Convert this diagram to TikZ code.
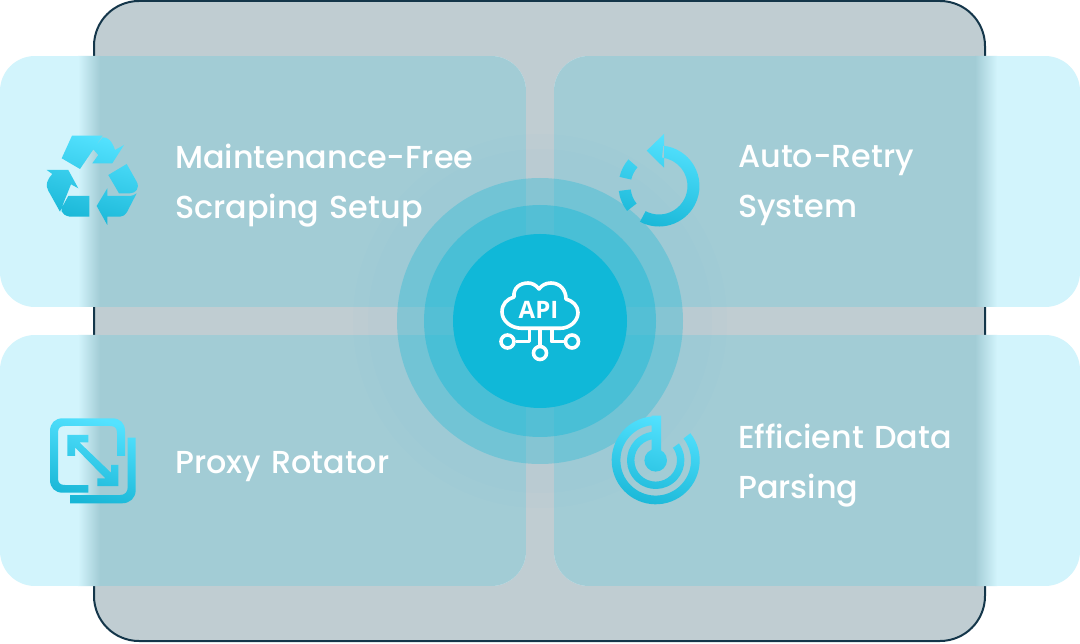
\documentclass[tikz,border=0pt]{standalone}
\usepackage{fontspec}
\setmainfont{Poppins}
\newfontfamily\labelfont[WordSpace=1.25]{Poppins Medium}
\newfontfamily\apifont{Open Sans}
\definecolor{framefill}{HTML}{C0CDD2}
\definecolor{frameline}{HTML}{14364A}
\definecolor{panellight}{HTML}{D2F4FC}
\definecolor{paneldark}{HTML}{A2CCD5}
\definecolor{hubcyan}{HTML}{10B8D8}
\definecolor{icontop}{HTML}{54E2FF}
\definecolor{iconbot}{HTML}{18B6D6}
% cx, cy, outer radius, inner radius, start angle, end angle
\newcommand{\ringarc}[6]{(#1,#2) ++(#5:#3) arc[start angle=#5,end angle=#6,radius=#3] -- ([shift={(#1,#2)}]#6:#4) arc[start angle=#6,end angle=#5,radius=#4] -- cycle}
\begin{document}
\begin{tikzpicture}[x=1pt, y=-1pt,
        label/.style = {anchor=west, align=left, inner sep=0pt, text=white, font=\labelfont\fontsize{31.8}{50}\selectfont},
        icon/.style = {top color=icontop, bottom color=iconbot, shading angle=-15},
        glow/.style = {fill=hubcyan, opacity=0.31},
        wire/.style = {draw=white, line width=3.6pt, line join=round}]
        \path[use as bounding box, fill=white] (0, 0) rectangle (1080, 644);
        \draw[fill=framefill, draw=frameline, line width=2pt, rounded corners=45pt] (94, 1) rectangle (985, 641);
        % panels
        \foreach \y in {56, 335} {
                \begin{scope}
                \clip[rounded corners=35pt] (0, \y) rectangle (526, \y+251);
                \fill[panellight] (0, \y) rectangle (526, \y+251);
                \shade[left color=panellight, right color=paneldark] (78, \y) rectangle (100, \y+251);
                \fill[paneldark] (100, \y) rectangle (526, \y+251);
                \end{scope}
                \begin{scope}
                \clip[rounded corners=35pt] (554, \y) rectangle (1080, \y+251);
                \fill[panellight] (554, \y) rectangle (1080, \y+251);
                \shade[left color=paneldark, right color=panellight] (975, \y) rectangle (997, \y+251);
                \fill[paneldark] (554, \y) rectangle (975, \y+251);
                \end{scope}
        }
        % hub
        \foreach \r in {187, 172} {
                \fill[hubcyan, opacity=0.012] (540, 321) circle[radius=\r];
        }
        \fill[glow] (540, 321) circle[radius=143];
        \fill[glow, opacity=0.41] (540, 321) circle[radius=116];
        \fill[hubcyan] (540, 321) circle[radius=87];
        % api icon
        \draw[wire] (522, 328.3) .. controls (511, 328.3) and (502, 321) .. (502, 312) .. controls (502, 304) and (507, 299) .. (514, 297) .. controls (513, 288) and (520, 283) .. (528, 283) .. controls (532, 283) and (536, 285) .. (539, 289) .. controls (542, 285) and (546, 283) .. (551, 283) .. controls (560, 283) and (566, 290) .. (566, 299) .. controls (573, 301) and (578, 306) .. (578, 312.5) .. controls (578, 321) and (570, 328.3) .. (560, 328.3) -- cycle;
        \node[wire, circle, inner sep=0pt, minimum size=13pt] at (507.5, 341.5) (apileft) {};
        \node[wire, circle, inner sep=0pt, minimum size=13pt] at (540, 353) (apimid) {};
        \node[wire, circle, inner sep=0pt, minimum size=13pt] at (572, 341.5) (apiright) {};
        \coordinate (cloudleft) at (529.3, 328.3);
        \coordinate (cloudmid) at (540, 328.3);
        \coordinate (cloudright) at (551.7, 328.3);
        \draw[wire] (cloudleft) |- (apileft);
        \draw[wire] (cloudmid) -- (apimid);
        \draw[wire] (cloudright) |- (apiright);
        \node[text=white, font=\apifont\bfseries\fontsize{24}{24}\selectfont, inner sep=0pt] at (538.5, 309.5) (api) {API};
        % recycle icon
        \shade[icon] (61.7, 158.3) -- (72, 135.7) -- (102.7, 135.7) -- (80, 169) -- cycle
                (102.7, 137.3) .. controls (108, 137) and (112, 141) .. (115, 150) -- (124, 145) -- (112.3, 163.3) -- (92.3, 163.3) -- (98.3, 155) -- (93.3, 149.3) -- cycle
                (108.3, 175) -- (126.7, 164) -- (136.7, 181.7) .. controls (140, 188) and (136, 193.3) .. (130, 193.3) -- (119, 193.3) -- cycle
                (136.7, 193.3) -- (127, 212) .. controls (125, 215) and (123, 216.7) .. (120, 216.7) -- (107.3, 216.7) -- (107.3, 225) -- (96.7, 206) -- (107.3, 188.3) -- (107.3, 196) -- (128, 196) .. controls (132, 196) and (135, 195) .. (136.7, 193.3) -- cycle
                (89.3, 196) -- (89.3, 216.7) -- (70, 216.7) .. controls (60, 215) and (60, 208) .. (63.3, 205) -- (68.3, 196) -- cycle
                (46.7, 170) -- (68.3, 170) -- (78.3, 188.3) -- (71, 184.3) -- (60, 211.7) -- (48.3, 190.7) .. controls (45, 185) and (47, 180) .. (52.3, 174) -- cycle;
        % retry icon
        \shade[icon] \ringarc{659}{186}{40.5}{28.5}{118}{-84}
                (664, 134) -- (664, 167.7) -- (646.7, 150.7) -- cycle
                \ringarc{659}{186}{40.5}{28.5}{-187}{-218}
                \ringarc{659}{186}{40.5}{28.5}{-139}{-167};
        % proxy icon
        \shade[icon] (125, 456) -- (125, 431.3) .. controls (125, 423) and (120, 418.3) .. (112, 418.3) -- (63, 418.3) .. controls (55, 418.3) and (50, 423) .. (50, 431.3) -- (50, 479.7) .. controls (50, 488) and (55, 492.7) .. (63, 492.7) -- (88.3, 492.7) -- (88.3, 485) -- (65, 485) .. controls (60, 485) and (58, 483) .. (58, 478) -- (58, 433) .. controls (58, 428) and (60, 426) .. (65, 426) -- (110, 426) .. controls (115, 426) and (117, 428) .. (117, 433) -- (117, 456) -- cycle
                (127.7, 437.7) -- (135.7, 437.7) -- (135.7, 490) .. controls (135.7, 498) and (130, 503.3) .. (122, 503.3) -- (70, 503.3) -- (70, 495) -- (120, 495) .. controls (125, 495) and (127.7, 492) .. (127.7, 487.3) -- cycle
                (67.3, 435) -- (88.3, 435) -- (88.3, 442.3) -- (79.3, 442.3) -- (111, 472.7) -- (111, 465) -- (118.3, 465) -- (118.3, 486) -- (97.3, 486) -- (97.3, 478.3) -- (105.3, 478.3) -- (75, 447.3) -- (75, 456) -- (67.3, 456) -- cycle;
        % parsing icon
        \shade[icon] \ringarc{655.7}{460.3}{44}{35.3}{-38}{270}
                \ringarc{655.7}{460.3}{28.7}{21.3}{-36}{270}
                (651.7, 415.7) -- (661, 415.7) -- (661, 452) -- (651.7, 452) -- cycle
                (667, 460.3) arc[start angle=0, end angle=360, radius=11.3];
        % labels
        \node[label] at (175, 186) (setup) {Maintenance-Free\\Scraping Setup};
        \node[label] at (738, 186) (retry) {Auto-Retry\\System};
        \node[label] at (175, 467) (proxy) {Proxy Rotator};
        \node[label] at (738, 466) (parsing) {Efficient Data\\Parsing};
        \end{tikzpicture}
\end{document}
